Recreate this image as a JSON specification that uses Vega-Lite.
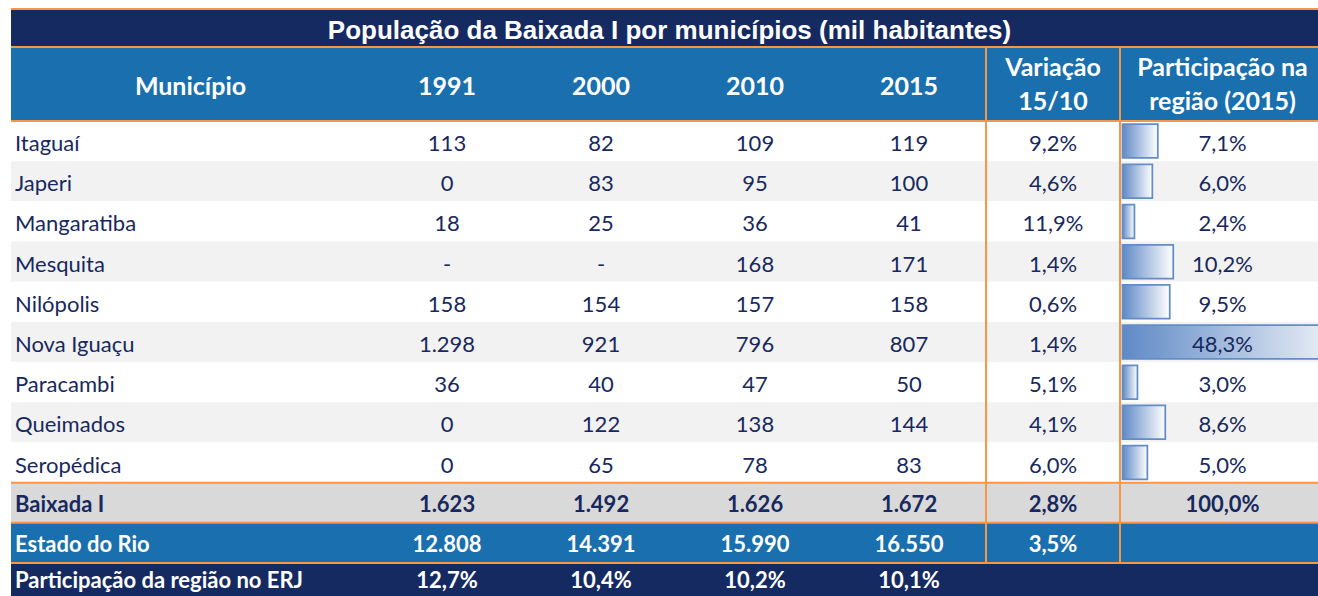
{
  "$schema": "https://vega.github.io/schema/vega-lite/v6.json",
  "padding": {"left": 10, "top": 8, "right": 0, "bottom": 0},
  "background": "white",
  "config": {
    "view": {"stroke": null},
    "concat": {"spacing": 0},
    "locale": {"number": {"decimal": ",", "thousands": ".", "grouping": [3], "currency": ["R$", ""]}}
  },
  "datasets": {
    "cells": [
      {"r": "Itaguaí", "c": "1991", "v": 113}, {"r": "Itaguaí", "c": "2000", "v": 82}, {"r": "Itaguaí", "c": "2010", "v": 109}, {"r": "Itaguaí", "c": "2015", "v": 119}, {"r": "Itaguaí", "c": "Var", "v": 0.092}, {"r": "Itaguaí", "c": "Part", "v": 0.071},
      {"r": "Japeri", "c": "1991", "v": 0}, {"r": "Japeri", "c": "2000", "v": 83}, {"r": "Japeri", "c": "2010", "v": 95}, {"r": "Japeri", "c": "2015", "v": 100}, {"r": "Japeri", "c": "Var", "v": 0.046}, {"r": "Japeri", "c": "Part", "v": 0.060},
      {"r": "Mangaratiba", "c": "1991", "v": 18}, {"r": "Mangaratiba", "c": "2000", "v": 25}, {"r": "Mangaratiba", "c": "2010", "v": 36}, {"r": "Mangaratiba", "c": "2015", "v": 41}, {"r": "Mangaratiba", "c": "Var", "v": 0.119}, {"r": "Mangaratiba", "c": "Part", "v": 0.024},
      {"r": "Mesquita", "c": "1991", "v": null}, {"r": "Mesquita", "c": "2000", "v": null}, {"r": "Mesquita", "c": "2010", "v": 168}, {"r": "Mesquita", "c": "2015", "v": 171}, {"r": "Mesquita", "c": "Var", "v": 0.014}, {"r": "Mesquita", "c": "Part", "v": 0.102},
      {"r": "Nilópolis", "c": "1991", "v": 158}, {"r": "Nilópolis", "c": "2000", "v": 154}, {"r": "Nilópolis", "c": "2010", "v": 157}, {"r": "Nilópolis", "c": "2015", "v": 158}, {"r": "Nilópolis", "c": "Var", "v": 0.006}, {"r": "Nilópolis", "c": "Part", "v": 0.095},
      {"r": "Nova Iguaçu", "c": "1991", "v": 1298}, {"r": "Nova Iguaçu", "c": "2000", "v": 921}, {"r": "Nova Iguaçu", "c": "2010", "v": 796}, {"r": "Nova Iguaçu", "c": "2015", "v": 807}, {"r": "Nova Iguaçu", "c": "Var", "v": 0.014}, {"r": "Nova Iguaçu", "c": "Part", "v": 0.483},
      {"r": "Paracambi", "c": "1991", "v": 36}, {"r": "Paracambi", "c": "2000", "v": 40}, {"r": "Paracambi", "c": "2010", "v": 47}, {"r": "Paracambi", "c": "2015", "v": 50}, {"r": "Paracambi", "c": "Var", "v": 0.051}, {"r": "Paracambi", "c": "Part", "v": 0.030},
      {"r": "Queimados", "c": "1991", "v": 0}, {"r": "Queimados", "c": "2000", "v": 122}, {"r": "Queimados", "c": "2010", "v": 138}, {"r": "Queimados", "c": "2015", "v": 144}, {"r": "Queimados", "c": "Var", "v": 0.041}, {"r": "Queimados", "c": "Part", "v": 0.086},
      {"r": "Seropédica", "c": "1991", "v": 0}, {"r": "Seropédica", "c": "2000", "v": 65}, {"r": "Seropédica", "c": "2010", "v": 78}, {"r": "Seropédica", "c": "2015", "v": 83}, {"r": "Seropédica", "c": "Var", "v": 0.060}, {"r": "Seropédica", "c": "Part", "v": 0.050},
      {"r": "Baixada I", "c": "1991", "v": 1623}, {"r": "Baixada I", "c": "2000", "v": 1492}, {"r": "Baixada I", "c": "2010", "v": 1626}, {"r": "Baixada I", "c": "2015", "v": 1672}, {"r": "Baixada I", "c": "Var", "v": 0.028}, {"r": "Baixada I", "c": "Part", "v": 1.0},
      {"r": "Estado do Rio", "c": "1991", "v": 12808}, {"r": "Estado do Rio", "c": "2000", "v": 14391}, {"r": "Estado do Rio", "c": "2010", "v": 15990}, {"r": "Estado do Rio", "c": "2015", "v": 16550}, {"r": "Estado do Rio", "c": "Var", "v": 0.035},
      {"r": "Participação da região no ERJ", "c": "1991", "v": 0.127}, {"r": "Participação da região no ERJ", "c": "2000", "v": 0.104}, {"r": "Participação da região no ERJ", "c": "2010", "v": 0.102}, {"r": "Participação da região no ERJ", "c": "2015", "v": 0.101}
    ]
  },
  "data": {"name": "cells"},
  "columns": 7,
  "spacing": 0,
  "bounds": "flush",
  "resolve": {"scale": {"x": "independent", "y": "independent", "color": "independent"}},
  "concat": [
    {"width": 359, "height": 38, "data": {"values": []},
     "view": {"fill": "#162a62", "stroke": "#f79646", "strokeWidth": 2, "strokeDash": [359, 435]},
     "mark": {"type": "text"}, "encoding": {}},
    {"width": 154, "height": 38, "data": {"values": []},
     "view": {"fill": "#162a62", "stroke": "#f79646", "strokeWidth": 2, "strokeDash": [154, 230]},
     "mark": {"type": "text"}, "encoding": {}},
    {"width": 154, "height": 38, "data": {"values": []},
     "view": {"fill": "#162a62", "stroke": "#f79646", "strokeWidth": 2, "strokeDash": [154, 230]},
     "mark": {"type": "text"}, "encoding": {}},
    {"width": 154, "height": 38, "data": {"values": []},
     "view": {"fill": "#162a62", "stroke": "#f79646", "strokeWidth": 2, "strokeDash": [154, 230]},
     "mark": {"type": "text"}, "encoding": {}},
    {"width": 154, "height": 38, "data": {"values": []},
     "view": {"fill": "#162a62", "stroke": "#f79646", "strokeWidth": 2, "strokeDash": [154, 230]},
     "mark": {"type": "text"}, "encoding": {}},
    {"width": 134, "height": 38, "data": {"values": []},
     "view": {"fill": "#162a62", "stroke": "#f79646", "strokeWidth": 2, "strokeDash": [134, 210]},
     "mark": {"type": "text"}, "encoding": {}},
    {"width": 199, "height": 38,
     "data": {"values": [{"t": "População da Baixada I por municípios (mil habitantes)"}]},
     "view": {"fill": "#162a62", "stroke": "#f79646", "strokeWidth": 2, "strokeDash": [199, 275]},
     "mark": {"type": "text", "font": "Liberation Sans", "fontWeight": "bold", "fontSize": 26, "color": "#ffffff", "dx": -550, "dy": 3},
     "encoding": {"text": {"field": "t", "type": "nominal"}}},

    {"width": 359, "height": 74, "data": {"values": [{"h": "Município"}]},
     "view": {"fill": "#1a6fae", "stroke": "#f79646", "strokeWidth": 2, "strokeDash": [359, 507]},
     "mark": {"type": "text", "font": "Lato", "fontWeight": "bold", "fontSize": 25, "color": "#ffffff", "dy": 3},
     "encoding": {"text": {"field": "h", "type": "nominal"}}},
    {"width": 154, "height": 74, "data": {"values": [{"h": "1991"}]},
     "view": {"fill": "#1a6fae", "stroke": "#f79646", "strokeWidth": 2, "strokeDash": [154, 302]},
     "mark": {"type": "text", "font": "Lato", "fontWeight": "bold", "fontSize": 25, "color": "#ffffff", "dy": 3},
     "encoding": {"text": {"field": "h", "type": "nominal"}}},
    {"width": 154, "height": 74, "data": {"values": [{"h": "2000"}]},
     "view": {"fill": "#1a6fae", "stroke": "#f79646", "strokeWidth": 2, "strokeDash": [154, 302]},
     "mark": {"type": "text", "font": "Lato", "fontWeight": "bold", "fontSize": 25, "color": "#ffffff", "dy": 3},
     "encoding": {"text": {"field": "h", "type": "nominal"}}},
    {"width": 154, "height": 74, "data": {"values": [{"h": "2010"}]},
     "view": {"fill": "#1a6fae", "stroke": "#f79646", "strokeWidth": 2, "strokeDash": [154, 302]},
     "mark": {"type": "text", "font": "Lato", "fontWeight": "bold", "fontSize": 25, "color": "#ffffff", "dy": 3},
     "encoding": {"text": {"field": "h", "type": "nominal"}}},
    {"width": 154, "height": 74, "data": {"values": [{"h": "2015"}]},
     "view": {"fill": "#1a6fae", "stroke": "#f79646", "strokeWidth": 2, "strokeDash": [154, 302]},
     "mark": {"type": "text", "font": "Lato", "fontWeight": "bold", "fontSize": 25, "color": "#ffffff", "dy": 3},
     "encoding": {"text": {"field": "h", "type": "nominal"}}},
    {"width": 134, "height": 74, "data": {"values": [{"h": "Variação\n15/10"}]},
     "view": {"fill": "#1a6fae", "stroke": "#f79646", "strokeWidth": 2},
     "mark": {"type": "text", "font": "Lato", "fontWeight": "bold", "fontSize": 25, "color": "#ffffff", "lineBreak": "\n", "lineHeight": 34, "dy": -16},
     "encoding": {"text": {"field": "h", "type": "nominal"}}},
    {"width": 199, "height": 74, "data": {"values": [{"h": "Participação na\nregião (2015)"}]},
     "view": {"fill": "#1a6fae", "stroke": "#f79646", "strokeWidth": 2, "strokeDash": [199, 273, 74, 0]},
     "mark": {"type": "text", "font": "Lato", "fontWeight": "bold", "fontSize": 25, "color": "#ffffff", "lineBreak": "\n", "lineHeight": 34, "dx": 3, "dy": -16},
     "encoding": {"text": {"field": "h", "type": "nominal"}}},

    {"width": 359, "height": 442,
     "layer": [
       {"transform": [{"filter": "datum.c === '1991' && datum.r !== 'Participação da região no ERJ'"}],
        "mark": {"type": "rect"},
        "encoding": {
          "y": {"field": "r", "type": "nominal", "axis": null, "scale": {"type": "band", "domain": ["Itaguaí","Japeri","Mangaratiba","Mesquita","Nilópolis","Nova Iguaçu","Paracambi","Queimados","Seropédica","Baixada I","Estado do Rio"], "paddingInner": 0, "paddingOuter": 0}},
          "color": {"field": "r", "type": "nominal", "legend": null, "scale": {"domain": ["Itaguaí","Japeri","Mangaratiba","Mesquita","Nilópolis","Nova Iguaçu","Paracambi","Queimados","Seropédica","Baixada I","Estado do Rio"], "range": ["#ffffff","#f2f2f2","#ffffff","#f2f2f2","#ffffff","#f2f2f2","#ffffff","#f2f2f2","#ffffff","#d9d9d9","#1a6fae"]}}}},
       {"transform": [{"filter": "datum.c === '1991' && datum.r !== 'Baixada I' && datum.r !== 'Estado do Rio' && datum.r !== 'Participação da região no ERJ'"}],
        "mark": {"type": "text", "font": "Lato", "fontSize": 22, "color": "#17295e", "align": "left", "dx": 4, "dy": 3},
        "encoding": {
          "y": {"field": "r", "type": "nominal", "axis": null},
          "x": {"field": "c", "type": "nominal", "axis": null, "bandPosition": 0, "scale": {"type": "band", "paddingInner": 0, "paddingOuter": 0}},
          "text": {"field": "r", "type": "nominal"}}},
       {"transform": [{"filter": "datum.c === '1991' && (datum.r === 'Baixada I' || datum.r === 'Estado do Rio')"}],
        "mark": {"type": "text", "font": "Lato", "fontSize": 22, "fontWeight": "bold", "align": "left", "dx": 4, "dy": 2},
        "encoding": {
          "y": {"field": "r", "type": "nominal", "axis": null},
          "x": {"field": "c", "type": "nominal", "axis": null, "bandPosition": 0, "scale": {"type": "band", "paddingInner": 0, "paddingOuter": 0}},
          "text": {"field": "r", "type": "nominal"},
          "color": {"condition": {"test": "datum.r === 'Estado do Rio'", "value": "#ffffff"}, "value": "#17295e"}}},
       {"transform": [{"filter": "datum.c === '1991' && (datum.r === 'Itaguaí' || datum.r === 'Baixada I' || datum.r === 'Estado do Rio')"}],
        "mark": {"type": "rule", "color": "#f79646", "strokeWidth": 2},
        "encoding": {"y": {"field": "r", "type": "nominal", "axis": null, "bandPosition": 0}}}
     ]},
    {"width": 154, "height": 442,
     "layer": [
       {"transform": [{"filter": "datum.c === '1991' && datum.r !== 'Participação da região no ERJ'"}],
        "mark": {"type": "rect"},
        "encoding": {
          "y": {"field": "r", "type": "nominal", "axis": null, "scale": {"type": "band", "domain": ["Itaguaí","Japeri","Mangaratiba","Mesquita","Nilópolis","Nova Iguaçu","Paracambi","Queimados","Seropédica","Baixada I","Estado do Rio"], "paddingInner": 0, "paddingOuter": 0}},
          "color": {"field": "r", "type": "nominal", "legend": null, "scale": {"domain": ["Itaguaí","Japeri","Mangaratiba","Mesquita","Nilópolis","Nova Iguaçu","Paracambi","Queimados","Seropédica","Baixada I","Estado do Rio"], "range": ["#ffffff","#f2f2f2","#ffffff","#f2f2f2","#ffffff","#f2f2f2","#ffffff","#f2f2f2","#ffffff","#d9d9d9","#1a6fae"]}}}},
       {"transform": [{"filter": "datum.c === '1991' && datum.r !== 'Baixada I' && datum.r !== 'Estado do Rio' && datum.r !== 'Participação da região no ERJ'"}],
        "mark": {"type": "text", "font": "Lato", "fontSize": 22, "color": "#17295e", "dy": 3},
        "encoding": {
          "y": {"field": "r", "type": "nominal", "axis": null},
          "text": {"condition": {"test": "datum.v === null", "value": "-"}, "field": "v", "type": "quantitative", "format": ",.0f"}}},
       {"transform": [{"filter": "datum.c === '1991' && (datum.r === 'Baixada I' || datum.r === 'Estado do Rio')"}],
        "mark": {"type": "text", "font": "Lato", "fontSize": 22, "fontWeight": "bold", "dy": 2},
        "encoding": {
          "y": {"field": "r", "type": "nominal", "axis": null},
          "text": {"field": "v", "type": "quantitative", "format": ",.0f"},
          "color": {"condition": {"test": "datum.r === 'Estado do Rio'", "value": "#ffffff"}, "value": "#17295e"}}},
       {"transform": [{"filter": "datum.c === '1991' && (datum.r === 'Itaguaí' || datum.r === 'Baixada I' || datum.r === 'Estado do Rio')"}],
        "mark": {"type": "rule", "color": "#f79646", "strokeWidth": 2},
        "encoding": {"y": {"field": "r", "type": "nominal", "axis": null, "bandPosition": 0}}}
     ]},
    {"width": 154, "height": 442,
     "layer": [
       {"transform": [{"filter": "datum.c === '1991' && datum.r !== 'Participação da região no ERJ'"}],
        "mark": {"type": "rect"},
        "encoding": {
          "y": {"field": "r", "type": "nominal", "axis": null, "scale": {"type": "band", "domain": ["Itaguaí","Japeri","Mangaratiba","Mesquita","Nilópolis","Nova Iguaçu","Paracambi","Queimados","Seropédica","Baixada I","Estado do Rio"], "paddingInner": 0, "paddingOuter": 0}},
          "color": {"field": "r", "type": "nominal", "legend": null, "scale": {"domain": ["Itaguaí","Japeri","Mangaratiba","Mesquita","Nilópolis","Nova Iguaçu","Paracambi","Queimados","Seropédica","Baixada I","Estado do Rio"], "range": ["#ffffff","#f2f2f2","#ffffff","#f2f2f2","#ffffff","#f2f2f2","#ffffff","#f2f2f2","#ffffff","#d9d9d9","#1a6fae"]}}}},
       {"transform": [{"filter": "datum.c === '2000' && datum.r !== 'Baixada I' && datum.r !== 'Estado do Rio' && datum.r !== 'Participação da região no ERJ'"}],
        "mark": {"type": "text", "font": "Lato", "fontSize": 22, "color": "#17295e", "dy": 3},
        "encoding": {
          "y": {"field": "r", "type": "nominal", "axis": null},
          "text": {"condition": {"test": "datum.v === null", "value": "-"}, "field": "v", "type": "quantitative", "format": ",.0f"}}},
       {"transform": [{"filter": "datum.c === '2000' && (datum.r === 'Baixada I' || datum.r === 'Estado do Rio')"}],
        "mark": {"type": "text", "font": "Lato", "fontSize": 22, "fontWeight": "bold", "dy": 2},
        "encoding": {
          "y": {"field": "r", "type": "nominal", "axis": null},
          "text": {"field": "v", "type": "quantitative", "format": ",.0f"},
          "color": {"condition": {"test": "datum.r === 'Estado do Rio'", "value": "#ffffff"}, "value": "#17295e"}}},
       {"transform": [{"filter": "datum.c === '1991' && (datum.r === 'Itaguaí' || datum.r === 'Baixada I' || datum.r === 'Estado do Rio')"}],
        "mark": {"type": "rule", "color": "#f79646", "strokeWidth": 2},
        "encoding": {"y": {"field": "r", "type": "nominal", "axis": null, "bandPosition": 0}}}
     ]},
    {"width": 154, "height": 442,
     "layer": [
       {"transform": [{"filter": "datum.c === '1991' && datum.r !== 'Participação da região no ERJ'"}],
        "mark": {"type": "rect"},
        "encoding": {
          "y": {"field": "r", "type": "nominal", "axis": null, "scale": {"type": "band", "domain": ["Itaguaí","Japeri","Mangaratiba","Mesquita","Nilópolis","Nova Iguaçu","Paracambi","Queimados","Seropédica","Baixada I","Estado do Rio"], "paddingInner": 0, "paddingOuter": 0}},
          "color": {"field": "r", "type": "nominal", "legend": null, "scale": {"domain": ["Itaguaí","Japeri","Mangaratiba","Mesquita","Nilópolis","Nova Iguaçu","Paracambi","Queimados","Seropédica","Baixada I","Estado do Rio"], "range": ["#ffffff","#f2f2f2","#ffffff","#f2f2f2","#ffffff","#f2f2f2","#ffffff","#f2f2f2","#ffffff","#d9d9d9","#1a6fae"]}}}},
       {"transform": [{"filter": "datum.c === '2010' && datum.r !== 'Baixada I' && datum.r !== 'Estado do Rio' && datum.r !== 'Participação da região no ERJ'"}],
        "mark": {"type": "text", "font": "Lato", "fontSize": 22, "color": "#17295e", "dy": 3},
        "encoding": {
          "y": {"field": "r", "type": "nominal", "axis": null},
          "text": {"condition": {"test": "datum.v === null", "value": "-"}, "field": "v", "type": "quantitative", "format": ",.0f"}}},
       {"transform": [{"filter": "datum.c === '2010' && (datum.r === 'Baixada I' || datum.r === 'Estado do Rio')"}],
        "mark": {"type": "text", "font": "Lato", "fontSize": 22, "fontWeight": "bold", "dy": 2},
        "encoding": {
          "y": {"field": "r", "type": "nominal", "axis": null},
          "text": {"field": "v", "type": "quantitative", "format": ",.0f"},
          "color": {"condition": {"test": "datum.r === 'Estado do Rio'", "value": "#ffffff"}, "value": "#17295e"}}},
       {"transform": [{"filter": "datum.c === '1991' && (datum.r === 'Itaguaí' || datum.r === 'Baixada I' || datum.r === 'Estado do Rio')"}],
        "mark": {"type": "rule", "color": "#f79646", "strokeWidth": 2},
        "encoding": {"y": {"field": "r", "type": "nominal", "axis": null, "bandPosition": 0}}}
     ]},
    {"width": 154, "height": 442,
     "layer": [
       {"transform": [{"filter": "datum.c === '1991' && datum.r !== 'Participação da região no ERJ'"}],
        "mark": {"type": "rect"},
        "encoding": {
          "y": {"field": "r", "type": "nominal", "axis": null, "scale": {"type": "band", "domain": ["Itaguaí","Japeri","Mangaratiba","Mesquita","Nilópolis","Nova Iguaçu","Paracambi","Queimados","Seropédica","Baixada I","Estado do Rio"], "paddingInner": 0, "paddingOuter": 0}},
          "color": {"field": "r", "type": "nominal", "legend": null, "scale": {"domain": ["Itaguaí","Japeri","Mangaratiba","Mesquita","Nilópolis","Nova Iguaçu","Paracambi","Queimados","Seropédica","Baixada I","Estado do Rio"], "range": ["#ffffff","#f2f2f2","#ffffff","#f2f2f2","#ffffff","#f2f2f2","#ffffff","#f2f2f2","#ffffff","#d9d9d9","#1a6fae"]}}}},
       {"transform": [{"filter": "datum.c === '2015' && datum.r !== 'Baixada I' && datum.r !== 'Estado do Rio' && datum.r !== 'Participação da região no ERJ'"}],
        "mark": {"type": "text", "font": "Lato", "fontSize": 22, "color": "#17295e", "dy": 3},
        "encoding": {
          "y": {"field": "r", "type": "nominal", "axis": null},
          "text": {"condition": {"test": "datum.v === null", "value": "-"}, "field": "v", "type": "quantitative", "format": ",.0f"}}},
       {"transform": [{"filter": "datum.c === '2015' && (datum.r === 'Baixada I' || datum.r === 'Estado do Rio')"}],
        "mark": {"type": "text", "font": "Lato", "fontSize": 22, "fontWeight": "bold", "dy": 2},
        "encoding": {
          "y": {"field": "r", "type": "nominal", "axis": null},
          "text": {"field": "v", "type": "quantitative", "format": ",.0f"},
          "color": {"condition": {"test": "datum.r === 'Estado do Rio'", "value": "#ffffff"}, "value": "#17295e"}}},
       {"transform": [{"filter": "datum.c === '1991' && (datum.r === 'Itaguaí' || datum.r === 'Baixada I' || datum.r === 'Estado do Rio')"}],
        "mark": {"type": "rule", "color": "#f79646", "strokeWidth": 2},
        "encoding": {"y": {"field": "r", "type": "nominal", "axis": null, "bandPosition": 0}}}
     ]},
    {"width": 134, "height": 442,
     "layer": [
       {"transform": [{"filter": "datum.c === '1991' && datum.r !== 'Participação da região no ERJ'"}],
        "mark": {"type": "rect"},
        "encoding": {
          "y": {"field": "r", "type": "nominal", "axis": null, "scale": {"type": "band", "domain": ["Itaguaí","Japeri","Mangaratiba","Mesquita","Nilópolis","Nova Iguaçu","Paracambi","Queimados","Seropédica","Baixada I","Estado do Rio"], "paddingInner": 0, "paddingOuter": 0}},
          "color": {"field": "r", "type": "nominal", "legend": null, "scale": {"domain": ["Itaguaí","Japeri","Mangaratiba","Mesquita","Nilópolis","Nova Iguaçu","Paracambi","Queimados","Seropédica","Baixada I","Estado do Rio"], "range": ["#ffffff","#f2f2f2","#ffffff","#f2f2f2","#ffffff","#f2f2f2","#ffffff","#f2f2f2","#ffffff","#d9d9d9","#1a6fae"]}}}},
       {"transform": [{"filter": "datum.c === 'Var' && datum.r !== 'Baixada I' && datum.r !== 'Estado do Rio'"}],
        "mark": {"type": "text", "font": "Lato", "fontSize": 22, "color": "#17295e", "dy": 3},
        "encoding": {
          "y": {"field": "r", "type": "nominal", "axis": null},
          "text": {"field": "v", "type": "quantitative", "format": ".1%"}}},
       {"transform": [{"filter": "datum.c === 'Var' && (datum.r === 'Baixada I' || datum.r === 'Estado do Rio')"}],
        "mark": {"type": "text", "font": "Lato", "fontSize": 22, "fontWeight": "bold", "dy": 2},
        "encoding": {
          "y": {"field": "r", "type": "nominal", "axis": null},
          "text": {"field": "v", "type": "quantitative", "format": ".1%"},
          "color": {"condition": {"test": "datum.r === 'Estado do Rio'", "value": "#ffffff"}, "value": "#17295e"}}},
       {"transform": [{"filter": "datum.c === '1991' && (datum.r === 'Itaguaí' || datum.r === 'Baixada I' || datum.r === 'Estado do Rio')"}],
        "mark": {"type": "rule", "color": "#f79646", "strokeWidth": 2},
        "encoding": {"y": {"field": "r", "type": "nominal", "axis": null, "bandPosition": 0}}},
       {"transform": [{"filter": "datum.c === 'Var' && datum.r === 'Itaguaí'"}],
        "mark": {"type": "rect", "fill": "transparent", "stroke": "#f79646", "strokeWidth": 2},
        "encoding": {}}
     ]},
    {"width": 199, "height": 442,
     "layer": [
       {"transform": [{"filter": "datum.c === '1991' && datum.r !== 'Participação da região no ERJ'"}],
        "mark": {"type": "rect"},
        "encoding": {
          "y": {"field": "r", "type": "nominal", "axis": null, "scale": {"type": "band", "domain": ["Itaguaí","Japeri","Mangaratiba","Mesquita","Nilópolis","Nova Iguaçu","Paracambi","Queimados","Seropédica","Baixada I","Estado do Rio"], "paddingInner": 0, "paddingOuter": 0}},
          "color": {"field": "r", "type": "nominal", "legend": null, "scale": {"domain": ["Itaguaí","Japeri","Mangaratiba","Mesquita","Nilópolis","Nova Iguaçu","Paracambi","Queimados","Seropédica","Baixada I","Estado do Rio"], "range": ["#ffffff","#f2f2f2","#ffffff","#f2f2f2","#ffffff","#f2f2f2","#ffffff","#f2f2f2","#ffffff","#d9d9d9","#1a6fae"]}}}},
       {"transform": [{"filter": "datum.c === 'Part' && datum.r !== 'Baixada I'"}],
        "mark": {"type": "bar", "clip": true, "height": {"band": 0.84}, "stroke": "#628dc6", "strokeWidth": 1.75,
                 "fill": {"gradient": "linear", "x1": 0, "y1": 0, "x2": 1, "y2": 0, "stops": [{"offset": 0, "color": "#5f89c6"}, {"offset": 1, "color": "#ffffff"}]}},
        "encoding": {
          "y": {"field": "r", "type": "nominal", "axis": null},
          "x": {"field": "v", "type": "quantitative", "axis": null, "scale": {"domain": [-0.005, 0.395], "zero": false, "nice": false}},
          "x2": {"datum": 0}}},
       {"transform": [{"filter": "datum.c === 'Part' && datum.r !== 'Baixada I'"}],
        "mark": {"type": "text", "font": "Lato", "fontSize": 22, "color": "#17295e", "dx": 3, "dy": 3},
        "encoding": {
          "y": {"field": "r", "type": "nominal", "axis": null},
          "text": {"field": "v", "type": "quantitative", "format": ".1%"}}},
       {"transform": [{"filter": "datum.c === 'Part' && datum.r === 'Baixada I'"}],
        "mark": {"type": "text", "font": "Lato", "fontSize": 22, "fontWeight": "bold", "color": "#17295e", "dx": 3, "dy": 2},
        "encoding": {
          "y": {"field": "r", "type": "nominal", "axis": null},
          "text": {"field": "v", "type": "quantitative", "format": ".1%"}}},
       {"transform": [{"filter": "datum.c === '1991' && (datum.r === 'Itaguaí' || datum.r === 'Baixada I' || datum.r === 'Estado do Rio')"}],
        "mark": {"type": "rule", "color": "#f79646", "strokeWidth": 2},
        "encoding": {"y": {"field": "r", "type": "nominal", "axis": null, "bandPosition": 0}}},
       {"transform": [{"filter": "datum.c === 'Part' && datum.r === 'Itaguaí'"}],
        "mark": {"type": "rule", "color": "#f79646", "strokeWidth": 2},
        "encoding": {"x": {"datum": -0.005, "type": "quantitative", "axis": null}}}
     ]},

    {"width": 359, "height": 33,
     "view": {"fill": "#162a62", "stroke": "#f79646", "strokeWidth": 2, "strokeDash": [359, 425]},
     "transform": [{"filter": "datum.c === '1991' && datum.r === 'Participação da região no ERJ'"}],
     "mark": {"type": "text", "font": "Lato", "fontSize": 22, "fontWeight": "bold", "color": "#ffffff", "align": "left", "dx": 4, "dy": 1},
     "encoding": {
       "x": {"field": "c", "type": "nominal", "axis": null, "bandPosition": 0, "scale": {"type": "band", "paddingInner": 0, "paddingOuter": 0}},
       "text": {"field": "r", "type": "nominal"}}},
    {"width": 154, "height": 33,
     "view": {"fill": "#162a62", "stroke": "#f79646", "strokeWidth": 2, "strokeDash": [154, 220]},
     "transform": [{"filter": "datum.c === '1991' && datum.r === 'Participação da região no ERJ'"}],
     "mark": {"type": "text", "font": "Lato", "fontSize": 22, "fontWeight": "bold", "color": "#ffffff", "dy": 1},
     "encoding": {"text": {"field": "v", "type": "quantitative", "format": ".1%"}}},
    {"width": 154, "height": 33,
     "view": {"fill": "#162a62", "stroke": "#f79646", "strokeWidth": 2, "strokeDash": [154, 220]},
     "transform": [{"filter": "datum.c === '2000' && datum.r === 'Participação da região no ERJ'"}],
     "mark": {"type": "text", "font": "Lato", "fontSize": 22, "fontWeight": "bold", "color": "#ffffff", "dy": 1},
     "encoding": {"text": {"field": "v", "type": "quantitative", "format": ".1%"}}},
    {"width": 154, "height": 33,
     "view": {"fill": "#162a62", "stroke": "#f79646", "strokeWidth": 2, "strokeDash": [154, 220]},
     "transform": [{"filter": "datum.c === '2010' && datum.r === 'Participação da região no ERJ'"}],
     "mark": {"type": "text", "font": "Lato", "fontSize": 22, "fontWeight": "bold", "color": "#ffffff", "dy": 1},
     "encoding": {"text": {"field": "v", "type": "quantitative", "format": ".1%"}}},
    {"width": 154, "height": 33,
     "view": {"fill": "#162a62", "stroke": "#f79646", "strokeWidth": 2, "strokeDash": [154, 220]},
     "transform": [{"filter": "datum.c === '2015' && datum.r === 'Participação da região no ERJ'"}],
     "mark": {"type": "text", "font": "Lato", "fontSize": 22, "fontWeight": "bold", "color": "#ffffff", "dy": 1},
     "encoding": {"text": {"field": "v", "type": "quantitative", "format": ".1%"}}},
    {"width": 134, "height": 33, "data": {"values": []},
     "view": {"fill": "#162a62", "stroke": "#f79646", "strokeWidth": 2, "strokeDash": [134, 200]},
     "mark": {"type": "text"}, "encoding": {}},
    {"width": 199, "height": 33, "data": {"values": []},
     "view": {"fill": "#162a62", "stroke": "#f79646", "strokeWidth": 2, "strokeDash": [199, 265]},
     "mark": {"type": "text"}, "encoding": {}}
  ]
}
